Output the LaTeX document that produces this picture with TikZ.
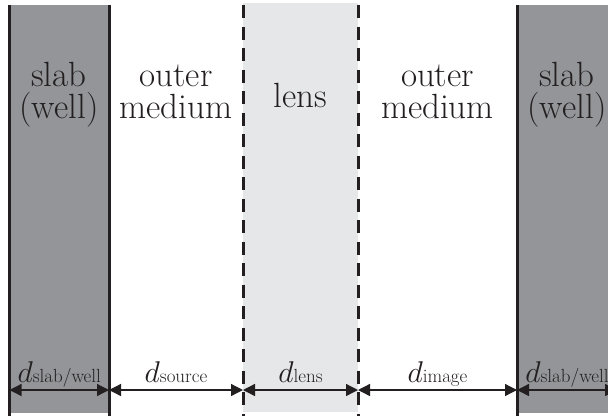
\documentclass[tikz,border=0pt]{standalone}
\usepackage{fix-cm}
\usepackage{amsmath}
\usetikzlibrary{arrows.meta}
\definecolor{slabgray}{RGB}{147,149,152}
\definecolor{lensgray}{RGB}{230,231,232}
\definecolor{inkblack}{RGB}{35,31,32}
\newcommand{\tworows}[2]{\rule{0pt}{28pt}#1\\#2\rule[-10pt]{0pt}{10pt}}
\newcommand{\dsub}[1]{{\fontsize{30}{30}\selectfont$d$}{\fontsize{19}{19}\selectfont #1}}

\begin{document}
\begin{tikzpicture}[x=1pt,y=-1pt,
  region/.style={font=\fontsize{35}{32}\selectfont,align=center,text=inkblack},
  dlabel/.style={anchor=base,yshift=8pt,text=inkblack,inner sep=0pt},
  gap/.style={{Triangle[length=12pt,width=12pt]}-{Triangle[length=12pt,width=12pt]},line width=1.3pt,inkblack},
  wall/.style={line width=3pt,inkblack},
  lenswall/.style={line width=3pt,inkblack,dash pattern=on 13pt off 8.5pt}]
\useasboundingbox (0,0) rectangle (608,416);
\clip (0,0) rectangle (608,416);
% slabs and lens
\fill[slabgray] (9.5,5) rectangle (109,413);
\fill[slabgray] (517,5) rectangle (617,413);
\fill[lensgray] (243,3) rectangle (358,412);
\foreach \x in {9.5,109,517} {\draw[wall] (\x,5) -- (\x,416);}
\foreach \x in {243,358} {\draw[lenswall] (\x,5) -- (\x,416);}
% region names
\node[region] (slabL) at (59,93) {\tworows{slab}{(well)}};
\node[region] (outerL) at (176,93) {\tworows{outer}{medium}};
\node[region,anchor=base] (lens) at (300.5,107) {lens};
\node[region] (outerR) at (437.5,93) {\tworows{outer}{medium}};
\node[region] (slabR) at (567,93) {\tworows{slab}{(well)}};
% widths
\foreach \x [count=\i from 0] in {9.5,109,243,358,517,617} {\coordinate (b\i) at (\x,390);}
\draw[gap] (b0) -- node[dlabel] (dslabL) {\dsub{slab/well}} (b1);
\draw[gap] (b1) -- node[dlabel] (dsource) {\dsub{source}} (b2);
\draw[gap] (b2) -- node[dlabel] (dlens) {\dsub{lens}} (b3);
\draw[gap] (b3) -- node[dlabel] (dimage) {\dsub{image}} (b4);
\draw[gap] (b4) -- node[dlabel] (dslabR) {\dsub{slab/well}} (b5);
\end{tikzpicture}
\end{document}
